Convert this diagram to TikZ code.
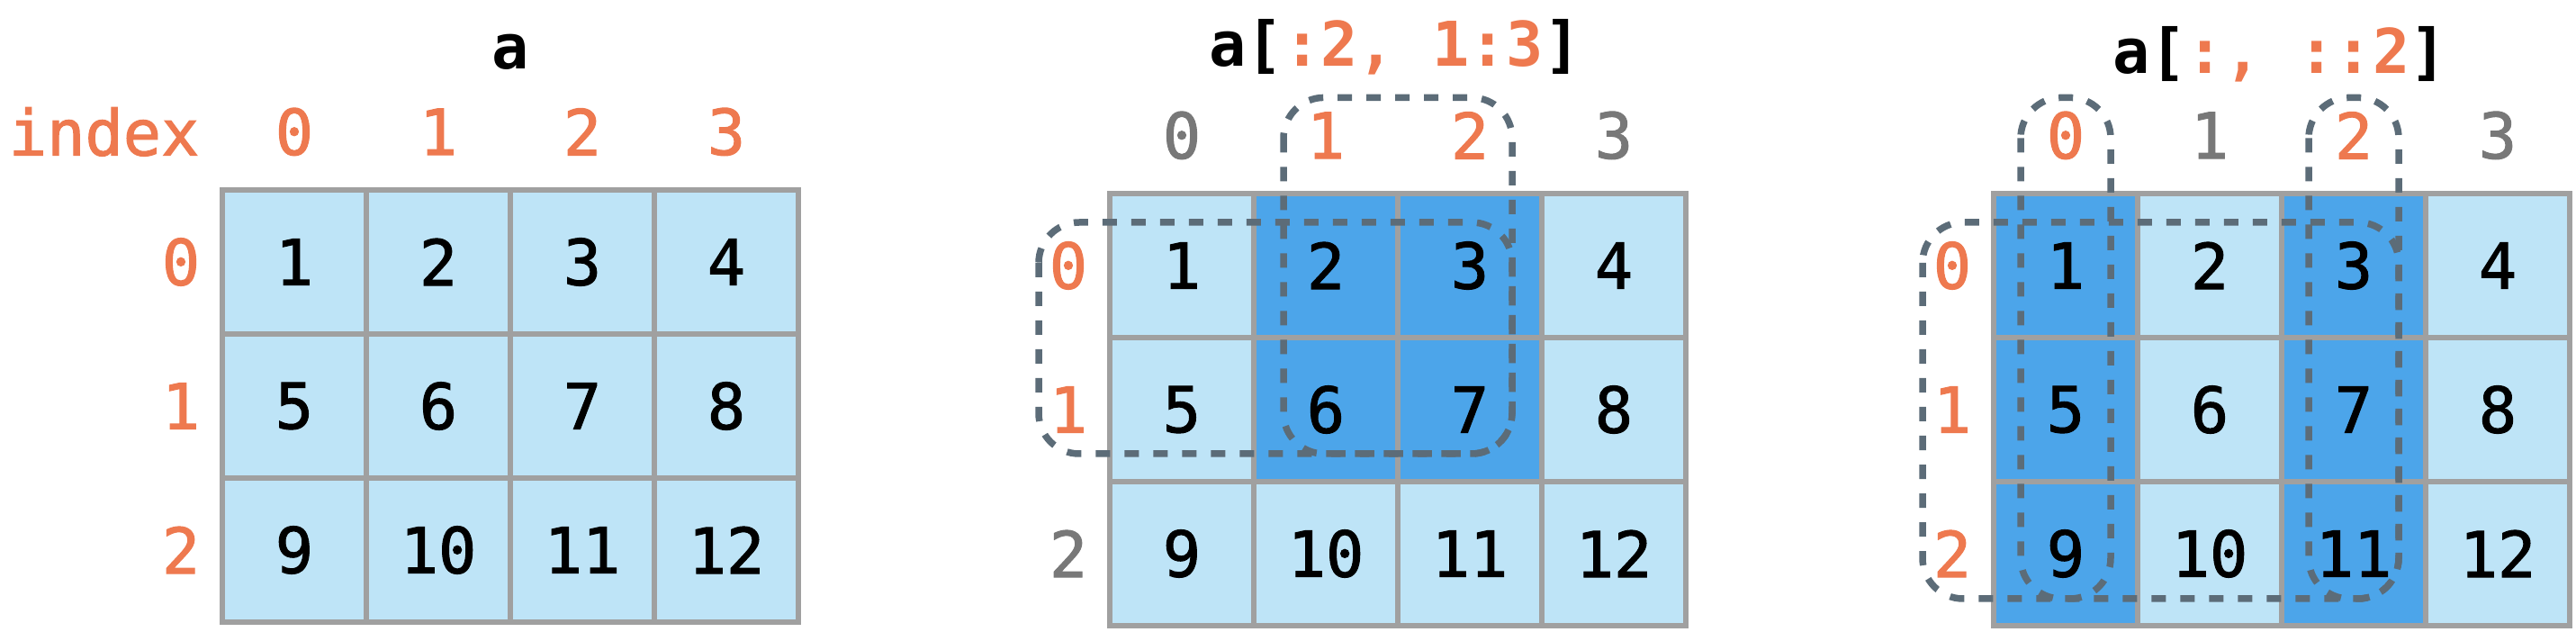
\documentclass[tikz,border=0pt]{standalone}
\usepackage{fontspec}
\setmainfont{DejaVu Sans Mono}
\newfontfamily\heavymono{DejaVu Sans Mono}[FakeBold=1.5]
\usepackage{tikz}
\usetikzlibrary{positioning}
\usetikzlibrary{calc}
\definecolor{cellblue}{RGB}{190,228,247}
\definecolor{pickblue}{RGB}{76,165,234}
\definecolor{gridgray}{RGB}{160,160,160}
\definecolor{idxorange}{RGB}{238,121,79}
\definecolor{idxgray}{RGB}{120,120,120}
\definecolor{boxslate}{RGB}{92,108,120}
\newcommand{\bigmono}{\heavymono\fontsize{20}{24}\selectfont}
\newcommand{\boldmono}{\fontsize{19.5}{24}\selectfont\bfseries}
\tikzstyle{cellbox} = [draw=gridgray, line width=0.06cm, fill=cellblue,
    minimum width=1.6cm, minimum height=1.6cm, inner sep=0pt, font=\bigmono]
\tikzstyle{pickbox} = [cellbox, fill=pickblue]
\tikzstyle{idx}     = [inner sep=0pt, font=\bigmono, text=idxorange]
\tikzstyle{idxoff}  = [idx, text=idxgray]
\tikzstyle{head}    = [inner sep=0pt, font=\boldmono, anchor=base]
\tikzstyle{selbox}  = [draw=boxslate, line width=0.075cm,
    dash pattern=on 0.16cm off 0.16cm, rounded corners=0.45cm]

\begin{document}
\begin{tikzpicture}
                    \useasboundingbox (0,0) rectangle (28.62,-7.02);
                    % a
                    \node at (5.67,-0.77)   [head] (ttlA) {a};
                    \foreach \r in {0,1,2} \foreach \c in {0,1,2,3} {
                        \pgfmathtruncatemacro{\n}{4*\r+\c+1}
                        \node at (3.27+1.6*\c,-2.91-1.6*\r) [cellbox] (a-\r-\c) {\n};
                    }
                    \foreach \c in {0,1,2,3} \node at (3.27+1.6*\c,-1.464) [idx] (ac\c) {\c};
                    \foreach \r in {0,1,2}   \node at (2.01,-2.91-1.6*\r)  [idx] (ar\r) {\r};
                    \node [idx, left=0.83cm of ac0] (idxlbl) {index};
                    % a[:2, 1:3]
                    \node at (15.50,-0.74)  [head] (ttlB) {a[\textcolor{idxorange}{:2,} \textcolor{idxorange}{1:3}]};
                    \foreach \r in {0,1,2} \foreach \c in {0,1,2,3} {
                        \pgfmathtruncatemacro{\n}{4*\r+\c+1}
                        \pgfmathtruncatemacro{\on}{(\r<2)&&(\c>0)&&(\c<3)}
                        \ifnum\on=1 \def\cs{pickbox}\else\def\cs{cellbox}\fi
                        \node at (13.13+1.6*\c,-2.95-1.6*\r) [\cs] (s-\r-\c) {\n};
                    }
                    \foreach \c/\s in {0/idxoff,1/idx,2/idx,3/idxoff} \node at (13.13+1.6*\c,-1.504) [\s] (sc\c) {\c};
                    \foreach \r/\s in {0/idx,1/idx,2/idxoff}          \node at (11.87,-2.95-1.6*\r)  [\s] (sr\r) {\r};
                    \draw[selbox] ($(sc1)+(-0.47,0.42)$) rectangle ($(s-1-2)+(0.47,-0.49)$);
                    \draw[selbox] ($(sr0)+(-0.33,0.48)$) rectangle ($(s-1-2)+(0.47,-0.49)$);
                    % a[:, ::2]
                    \node at (25.33,-0.82)  [head] (ttlC) {a[\textcolor{idxorange}{:,} \textcolor{idxorange}{::2}]};
                    \foreach \r in {0,1,2} \foreach \c in {0,1,2,3} {
                        \pgfmathtruncatemacro{\n}{4*\r+\c+1}
                        \pgfmathtruncatemacro{\on}{mod(\c,2)==0}
                        \ifnum\on=1 \def\cs{pickbox}\else\def\cs{cellbox}\fi
                        \node at (22.95+1.6*\c,-2.95-1.6*\r) [\cs] (t-\r-\c) {\n};
                    }
                    \foreach \c/\s in {0/idx,1/idxoff,2/idx,3/idxoff} \node at (22.95+1.6*\c,-1.504) [\s] (tc\c) {\c};
                    \foreach \r in {0,1,2}                           \node at (21.69,-2.95-1.6*\r)  [idx] (tr\r) {\r};
                    \draw[selbox] ($(tc0)+(-0.5,0.42)$) rectangle ($(t-2-0)+(0.5,-0.5)$);
                    \draw[selbox] ($(tc2)+(-0.5,0.42)$) rectangle ($(t-2-2)+(0.5,-0.5)$);
                    \draw[selbox] ($(tr0)+(-0.33,0.48)$) rectangle ($(t-2-2)+(0.5,-0.5)$);
                \end{tikzpicture}
\end{document}
